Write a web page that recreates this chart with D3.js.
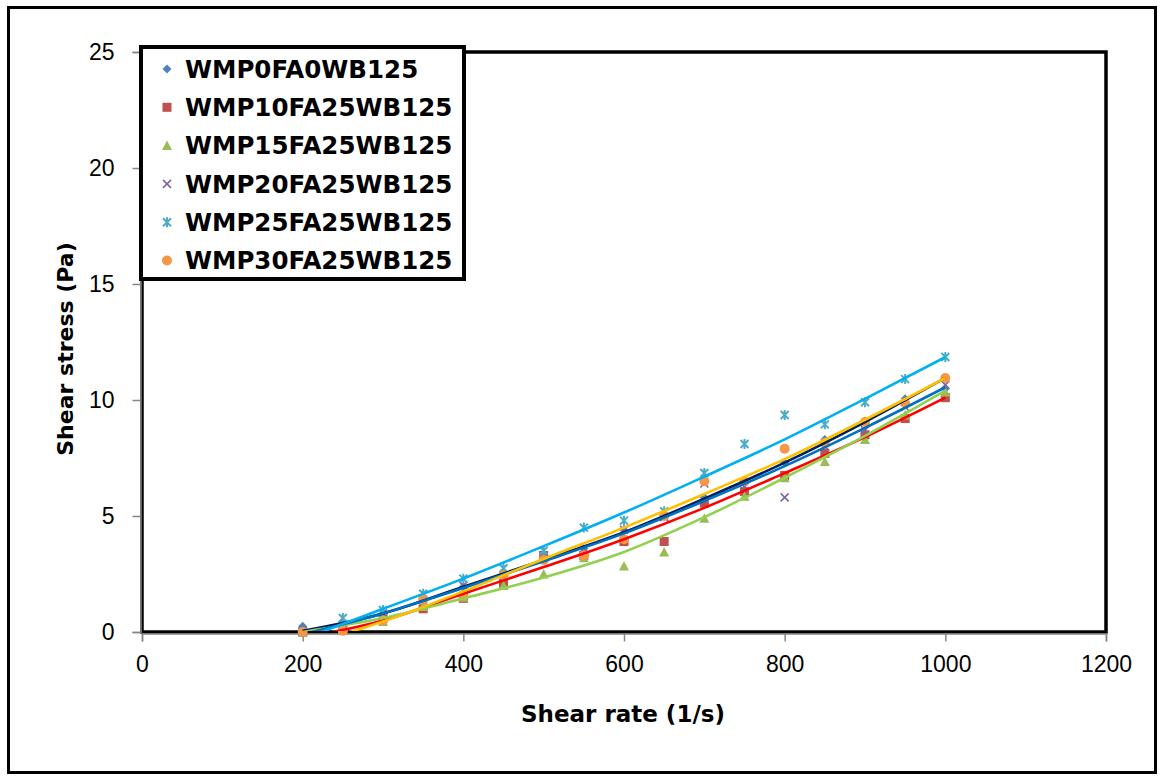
<!DOCTYPE html>
<html>
<head>
<meta charset="utf-8">
<script src="https://cdn.jsdelivr.net/npm/d3@7"></script>
<style>
  body { margin: 0; background: #fff; }
</style>
</head>
<body>
<div id="chart"></div>
<script>
// data
var shearRate = [200, 250, 300, 350, 400, 450, 500, 550, 600, 650, 700, 750, 800, 850, 900, 950, 1000];
var seriesNames = ["WMP0FA0WB125", "WMP10FA25WB125", "WMP15FA25WB125", "WMP20FA25WB125", "WMP25FA25WB125", "WMP30FA25WB125"];
var wmp0  = [0.25, 0.45, 0.8, 1.4, 1.95, 2.4, 3.35, 3.6, 4.4, 5.0, 5.8, 6.4, 7.3, 8.3, 9.1, 10.05, 10.5];
var wmp10 = [0.0, 0.1, 0.6, 1.0, 1.45, 2.1, 3.3, 3.3, 3.9, 3.9, 5.55, 6.05, 6.75, 7.7, 8.5, 9.2, 10.1];
var wmp15 = [0.0, 0.1, 0.45, 1.1, 1.5, 2.0, 2.5, 3.2, 2.85, 3.45, 4.9, 5.85, 6.65, 7.35, 8.3, 9.35, 10.35];
var wmp20 = [0.05, 0.3, 0.8, 1.4, 2.0, 2.4, 3.3, 3.6, 4.4, 4.95, 6.4, 6.25, 5.8, 8.0, 8.7, 9.7, 10.65];
var wmp25 = [0.0, 0.6, 0.95, 1.65, 2.3, 2.75, 3.5, 4.5, 4.8, 5.2, 6.85, 8.1, 9.35, 8.95, 9.9, 10.9, 11.85];
var wmp30 = [0.0, 0.05, 0.5, 1.4, 1.6, 2.45, 3.1, 3.3, 4.0, 5.0, 6.5, 6.5, 7.9, 8.15, 9.05, 9.85, 10.95];

// trend lines (as drawn in the picture)
var trendRate = [200, 300, 400, 500, 600, 700, 800, 900, 1000];
var trend0  = [0.05, 0.8, 1.95, 3.1, 4.3, 5.75, 7.3, 9.05, 10.95];
var trend10 = [-0.25, 0.5, 1.65, 2.8, 4.0, 5.35, 6.85, 8.4, 10.1];
var trend15 = [0.0, 0.6, 1.45, 2.35, 3.45, 4.95, 6.65, 8.45, 10.4];
var trend20 = [-0.1, 0.8, 1.9, 3.05, 4.25, 5.65, 7.15, 8.8, 10.55];
var trend25 = [-0.3, 1.0, 2.3, 3.7, 5.15, 6.7, 8.3, 10.05, 11.85];
var trend30 = [-0.6, 0.45, 1.75, 3.15, 4.5, 5.95, 7.45, 9.15, 10.95];

var xTicks = [0, 200, 400, 600, 800, 1000, 1200];
var yTicks = [0, 5, 10, 15, 20, 25];

var markerColors = ["#4F81BD", "#C0504D", "#9BBB59", "#8064A2", "#4BACC6", "#F79646"];
var markerShapes = ["diamond", "square", "triangle", "x", "star", "circle"];
var trendColors = ["#002060", "#FF0000", "#92D050", "#0070C0", "#00B0F0", "#FFC000"];

var values = [wmp0, wmp10, wmp15, wmp20, wmp25, wmp30];
var trends = [trend0, trend10, trend15, trend20, trend25, trend30];

var W = 1160, H = 776;
var margin = {top: 52, right: 54, bottom: 144, left: 142},
  width = W - margin.left - margin.right,
  height = H - margin.top - margin.bottom;

var root = d3.select("#chart").append("svg")
  .attr("width", W)
  .attr("height", H);

// outer frame
root.append("rect")
  .attr("x", 8.5).attr("y", 7.5)
  .attr("width", 1147).attr("height", 765)
  .attr("fill", "none")
  .attr("stroke", "#000")
  .attr("stroke-width", 3);

var svg = root.append("g")
  .attr("transform", "translate(" + margin.left + "," + margin.top + ")");

var x = d3.scaleLinear().domain([0, 1200]).range([0, width]);
var y = d3.scaleLinear().domain([0, 25]).range([height, 0]);

// plot area border
svg.append("rect")
  .attr("x", 0).attr("y", 0)
  .attr("width", width).attr("height", height)
  .attr("fill", "none")
  .attr("stroke", "#000")
  .attr("stroke-width", 3.5);

// axes
var xAxis = svg.append("g")
  .attr("transform", "translate(0," + (height + 1.5) + ")")
  .call(d3.axisBottom(x).tickValues(xTicks).tickFormat(d3.format("d")).tickSize(8).tickPadding(14));
var yAxis = svg.append("g")
  .attr("transform", "translate(-1.5,0)")
  .call(d3.axisLeft(y).tickValues(yTicks).tickFormat(d3.format("d")).tickSize(8).tickPadding(18));
[xAxis, yAxis].forEach(function(a) {
  a.select(".domain").attr("stroke", "#868686").attr("stroke-width", 1.5);
  a.selectAll(".tick line").attr("stroke", "#868686").attr("stroke-width", 1.5);
  a.selectAll(".tick text")
    .style("font-family", "'Liberation Sans', Arial, sans-serif")
    .style("font-size", "23px")
    .attr("fill", "#000");
});

// marker drawing
function drawMarker(g, shape, color, cx, cy) {
  var s = 4.5;
  if (shape === "diamond") {
    g.append("path")
      .attr("d", "M" + cx + "," + (cy - s) + "L" + (cx + s) + "," + cy + "L" + cx + "," + (cy + s) + "L" + (cx - s) + "," + cy + "Z")
      .attr("fill", color);
  } else if (shape === "square") {
    g.append("rect").attr("x", cx - 4.5).attr("y", cy - 4.5).attr("width", 9).attr("height", 9).attr("fill", color);
  } else if (shape === "triangle") {
    g.append("path")
      .attr("d", "M" + cx + "," + (cy - 5) + "L" + (cx + 5) + "," + (cy + 4.5) + "L" + (cx - 5) + "," + (cy + 4.5) + "Z")
      .attr("fill", color);
  } else if (shape === "x") {
    g.append("path")
      .attr("d", "M" + (cx - 4) + "," + (cy - 4) + "L" + (cx + 4) + "," + (cy + 4) + "M" + (cx + 4) + "," + (cy - 4) + "L" + (cx - 4) + "," + (cy + 4))
      .attr("stroke", color).attr("stroke-width", 1.6).attr("fill", "none");
  } else if (shape === "star") {
    g.append("path")
      .attr("d", "M" + (cx - 4) + "," + (cy - 4) + "L" + (cx + 4) + "," + (cy + 4) + "M" + (cx + 4) + "," + (cy - 4) + "L" + (cx - 4) + "," + (cy + 4) + "M" + cx + "," + (cy - 5) + "L" + cx + "," + (cy + 5))
      .attr("stroke", color).attr("stroke-width", 2).attr("fill", "none");
  } else {
    g.append("circle").attr("cx", cx).attr("cy", cy).attr("r", 5).attr("fill", color);
  }
}

// markers
var pts = svg.append("g");
values.forEach(function(vals, i) {
  vals.forEach(function(v, j) {
    drawMarker(pts, markerShapes[i], markerColors[i], x(shearRate[j]), y(v));
  });
});

// trend lines, clipped to the plot area
svg.append("clipPath").attr("id", "clip")
  .append("rect").attr("x", 0).attr("y", 0).attr("width", width).attr("height", height - 1);

var line = d3.line()
  .x(function(d, j) { return x(trendRate[j]); })
  .y(function(d) { return y(d); })
  .curve(d3.curveMonotoneX);

svg.append("g").attr("clip-path", "url(#clip)")
  .selectAll("path")
  .data(trends)
  .enter()
  .append("path")
    .attr("d", line)
    .attr("fill", "none")
    .attr("stroke", function(d, i) { return trendColors[i]; })
    .attr("stroke-width", 2.6);

// legend
var legend = root.append("g").attr("transform", "translate(141,47)");
legend.append("rect")
  .attr("x", 0).attr("y", 0)
  .attr("width", 323).attr("height", 232)
  .attr("fill", "#fff")
  .attr("stroke", "#000")
  .attr("stroke-width", 4);
seriesNames.forEach(function(name, i) {
  var cy = 22 + i * 38.3;
  drawMarker(legend, markerShapes[i], markerColors[i], 26, cy);
  legend.append("text")
    .attr("x", 44)
    .attr("y", cy)
    .attr("dy", "0.36em")
    .style("font-family", "'DejaVu Sans', sans-serif")
    .style("font-weight", "bold")
    .style("font-size", "24.5px")
    .text(name);
});

// axis titles
root.append("text")
  .attr("x", 623)
  .attr("y", 722)
  .attr("text-anchor", "middle")
  .style("font-family", "'DejaVu Sans', sans-serif")
  .style("font-weight", "bold")
  .style("font-size", "23px")
  .text("Shear rate (1/s)");

root.append("text")
  .attr("transform", "translate(73,349) rotate(-90)")
  .attr("text-anchor", "middle")
  .style("font-family", "'DejaVu Sans', sans-serif")
  .style("font-weight", "bold")
  .style("font-size", "22px")
  .text("Shear stress (Pa)");
</script>
</body>
</html>
